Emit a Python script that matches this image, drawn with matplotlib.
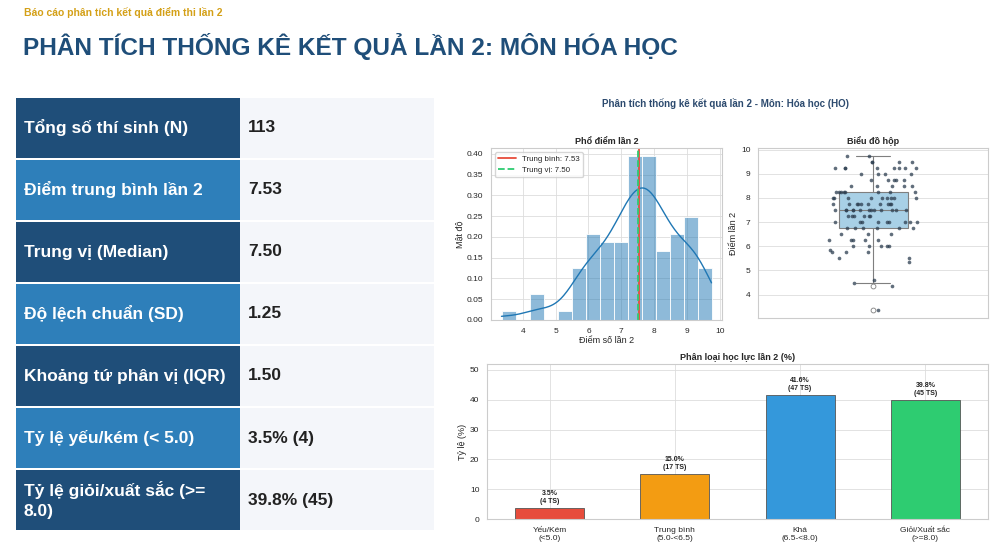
import numpy as np
import matplotlib.pyplot as plt
import seaborn as sns
from matplotlib.patches import Rectangle

# --- data ---------------------------------------------------------------
# diem thi lan 2 (doc tu bieu do hop / pho diem), so lan xuat hien
score_values = [3.35, 4.35, 4.5, 4.6, 5.35, 5.5, 5.75, 5.85, 6.0, 6.25,
                6.5, 6.75, 7.0, 7.25, 7.5, 7.75, 8.0, 8.25, 8.5, 8.75,
                9.0, 9.25, 9.5, 9.75]
score_counts = [1, 1, 1, 1, 1, 2, 3, 1, 5, 5,
                3, 6, 9, 6, 13, 10, 9, 8, 5, 5,
                4, 8, 4, 2]

mean_val = 7.53
median_val = 7.50

cat_labels = ["Yếu/Kém\n(<5.0)", "Trung bình\n(5.0-<6.5)",
              "Khá\n(6.5-<8.0)", "Giỏi/Xuất sắc\n(>=8.0)"]
cat_counts = [4, 17, 47, 45]
cat_colors = ["#e74c3c", "#f39c12", "#3498db", "#2ecc71"]

row_labels = ["Tổng số thí sinh (N)", "Điểm trung bình lần 2", "Trung vị (Median)",
              "Độ lệch chuẩn (SD)", "Khoảng tứ phân vị (IQR)", "Tỷ lệ yếu/kém (< 5.0)",
              "Tỷ lệ giỏi/xuất sắc (>=\n8.0)"]
row_values = ["113", "7.53", "7.50", "1.25", "1.50", "3.5% (4)", "39.8% (45)"]

scores = np.repeat(score_values, score_counts)
n_total = len(scores)

# --- style ---------------------------------------------------------------
sns.set_style("whitegrid")
FONT = ["Liberation Sans", "DejaVu Sans"]
plt.rcParams["font.family"] = FONT

DARK = "#1f4e79"
MID = "#2e7fba"
W, H = 1000, 560


def px(l, t, r, b):
    return [l / W, 1 - b / H, (r - l) / W, (b - t) / H]


fig = plt.figure(figsize=(10, 5.6), dpi=100)

# slide layer (titles + table)
bg = fig.add_axes([0, 0, 1, 1], zorder=0)
bg.set_xlim(0, W)
bg.set_ylim(H, 0)
bg.axis("off")

bg.text(24, 12, "Báo cáo phân tích kết quả điểm thi lần 2", color="#d4a017",
        fontsize=7.5, fontweight="bold", va="center")
bg.text(23, 46, "PHÂN TÍCH THỐNG KÊ KẾT QUẢ LẦN 2: MÔN HÓA HỌC", color=DARK,
        fontsize=17.6, fontweight="bold", va="center")

top = 98
row_h = 60
gap = 2
for i, (lab, val) in enumerate(zip(row_labels, row_values)):
    y0 = top + i * (row_h + gap)
    bg.add_patch(Rectangle((16, y0), 224, row_h, color=DARK if i % 2 == 0 else MID, lw=0))
    bg.add_patch(Rectangle((240, y0), 194, row_h, color="#f4f6fa", lw=0))
    bg.text(24, y0 + row_h / 2, lab, color="white", fontsize=12.5, fontweight="bold",
            va="center", linespacing=1.35)
    bg.text(248, y0 + row_h / 2, val, color="#222222", fontsize=12.5, fontweight="bold",
            va="center")

bg.text(725, 103, "Phân tích thống kê kết quả lần 2 - Môn: Hóa học (HO)", color="#2c4a6e",
        fontsize=7, fontweight="bold", ha="center", va="center")

# --- histogram ---------------------------------------------------------
ax1 = fig.add_axes(px(491, 148, 722, 320))
sns.histplot(x=scores, bins=15, stat="density", kde=True, ax=ax1, color="#1f77b4",
             alpha=0.5, edgecolor="white", linewidth=0.6, line_kws={"linewidth": 1})
ax1.axvline(mean_val, color="#e74c3c", lw=1.3, label=f"Trung bình: {mean_val:.2f}")
ax1.axvline(median_val, color="#2ecc71", lw=1.3, ls="--", label=f"Trung vị: {median_val:.2f}")
ax1.set_title("Phổ điểm lần 2", fontsize=6.5, fontweight="bold", pad=3)
ax1.set_xlabel("Điểm số lần 2", fontsize=6.5, labelpad=1)
ax1.set_ylabel("Mật độ", fontsize=6.5, labelpad=2)
ax1.legend(loc="upper left", fontsize=5.7, frameon=True, handlelength=2.2)
ax1.tick_params(labelsize=6, pad=2)

# --- box plot ----------------------------------------------------------
ax2 = fig.add_axes(px(758, 148, 988, 318))
ax2.boxplot(scores, positions=[0], widths=0.3, patch_artist=True,
            boxprops=dict(facecolor="#a8d0e6", edgecolor="#7f7f7f", linewidth=0.8),
            whiskerprops=dict(color="#7f7f7f", linewidth=0.8),
            capprops=dict(color="#7f7f7f", linewidth=0.8),
            medianprops=dict(color="#7f7f7f", linewidth=0.8),
            flierprops=dict(marker="o", markerfacecolor="white", markeredgecolor="#7f7f7f",
                            markersize=3.5, markeredgewidth=0.6))
np.random.seed(3)
jit = np.random.uniform(-0.2, 0.2, n_total)
ax2.scatter(jit, scores, s=7, color="#2c3e50", alpha=0.75, lw=0, zorder=3)
ax2.set_xlim(-0.5, 0.5)
ax2.set_xticks([])
ax2.set_title("Biểu đồ hộp", fontsize=6.5, fontweight="bold", pad=3)
ax2.set_ylabel("Điểm lần 2", fontsize=6.5, labelpad=2)
ax2.tick_params(labelsize=6, pad=2)

# --- bar chart ----------------------------------------------------------
ax3 = fig.add_axes(px(487, 364, 988, 519))
pcts = [c / n_total * 100 for c in cat_counts]
xpos = np.arange(len(cat_labels))
ax3.bar(xpos, pcts, width=0.55, color=cat_colors, edgecolor="#555555", linewidth=0.6)
for x, p, c in zip(xpos, pcts, cat_counts):
    ax3.text(x, p + 1, f"{p:.1f}%\n({c} TS)", ha="center", va="bottom",
             fontsize=5, fontweight="bold", color="#222222")
ax3.set_xticks(xpos)
ax3.set_xticklabels(cat_labels, fontsize=6)
ax3.set_xlim(-0.5, 3.5)
ax3.set_ylim(0, max(pcts) * 1.25)
ax3.set_title("Phân loại học lực lần 2 (%)", fontsize=6.5, fontweight="bold", pad=3)
ax3.set_ylabel("Tỷ lệ (%)", fontsize=6.5, labelpad=2)
ax3.tick_params(labelsize=6, pad=2)

for a in (ax1, ax2, ax3):
    for s in a.spines.values():
        s.set_color("#cccccc")
        s.set_linewidth(0.8)
    a.grid(color="#dddddd", linewidth=0.6)
    a.set_axisbelow(True)

fig.savefig("out.png", dpi=100)
